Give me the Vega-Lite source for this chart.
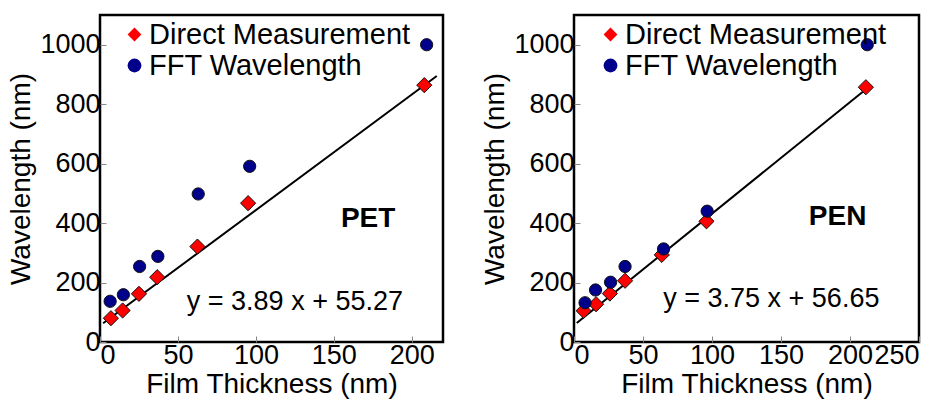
{
  "$schema": "https://vega.github.io/schema/vega-lite/v6.json",
  "padding": {"left": 6, "top": 13, "right": 0, "bottom": 0},
  "background": "white",
  "spacing": 35,
  "config": {
    "font": "Liberation Sans",
    "view": {"stroke": "black", "strokeWidth": 2.5},
    "axis": {
      "domain": false,
      "grid": false,
      "ticks": true,
      "tickSize": -6,
      "tickColor": "#888888",
      "tickWidth": 1,
      "format": "d",
      "labelFont": "Liberation Sans",
      "labelFontSize": 27,
      "labelColor": "black",
      "titleFont": "Liberation Sans",
      "titleFontSize": 28,
      "titleFontWeight": "normal",
      "titleColor": "black"
    },
    "legend": {
      "labelFont": "Liberation Sans",
      "labelFontSize": 29,
      "labelColor": "black",
      "labelLimit": 0,
      "symbolSize": 190,
      "symbolStrokeColor": "#111111",
      "symbolStrokeWidth": 1,
      "labelOffset": 0,
      "rowPadding": 1,
      "padding": 0
    }
  },
  "datasets": {
    "pts": [
      {"panel": "PET", "series": "Direct Measurement", "thickness": 7, "wavelength": 80},
      {"panel": "PET", "series": "Direct Measurement", "thickness": 14.5, "wavelength": 106},
      {"panel": "PET", "series": "Direct Measurement", "thickness": 25, "wavelength": 162},
      {"panel": "PET", "series": "Direct Measurement", "thickness": 36.7, "wavelength": 218},
      {"panel": "PET", "series": "Direct Measurement", "thickness": 62.5, "wavelength": 321},
      {"panel": "PET", "series": "Direct Measurement", "thickness": 95, "wavelength": 467},
      {"panel": "PET", "series": "Direct Measurement", "thickness": 208, "wavelength": 864},
      {"panel": "PET", "series": "FFT Wavelength", "thickness": 6.5, "wavelength": 137},
      {"panel": "PET", "series": "FFT Wavelength", "thickness": 15, "wavelength": 159},
      {"panel": "PET", "series": "FFT Wavelength", "thickness": 25.4, "wavelength": 254},
      {"panel": "PET", "series": "FFT Wavelength", "thickness": 37.1, "wavelength": 288},
      {"panel": "PET", "series": "FFT Wavelength", "thickness": 63, "wavelength": 498},
      {"panel": "PET", "series": "FFT Wavelength", "thickness": 96, "wavelength": 591},
      {"panel": "PET", "series": "FFT Wavelength", "thickness": 209.5, "wavelength": 1000},
      {"panel": "PEN", "series": "Direct Measurement", "thickness": 7, "wavelength": 105},
      {"panel": "PEN", "series": "Direct Measurement", "thickness": 16, "wavelength": 127},
      {"panel": "PEN", "series": "Direct Measurement", "thickness": 26, "wavelength": 163},
      {"panel": "PEN", "series": "Direct Measurement", "thickness": 37, "wavelength": 206},
      {"panel": "PEN", "series": "Direct Measurement", "thickness": 63.6, "wavelength": 293},
      {"panel": "PEN", "series": "Direct Measurement", "thickness": 96, "wavelength": 406},
      {"panel": "PEN", "series": "Direct Measurement", "thickness": 211.5, "wavelength": 857},
      {"panel": "PEN", "series": "FFT Wavelength", "thickness": 8, "wavelength": 132},
      {"panel": "PEN", "series": "FFT Wavelength", "thickness": 15.6, "wavelength": 175},
      {"panel": "PEN", "series": "FFT Wavelength", "thickness": 26.5, "wavelength": 201},
      {"panel": "PEN", "series": "FFT Wavelength", "thickness": 37, "wavelength": 254},
      {"panel": "PEN", "series": "FFT Wavelength", "thickness": 64.9, "wavelength": 313},
      {"panel": "PEN", "series": "FFT Wavelength", "thickness": 96.5, "wavelength": 440},
      {"panel": "PEN", "series": "FFT Wavelength", "thickness": 212.5, "wavelength": 1000}
    ],
    "fit": [
      {"panel": "PET", "thickness": 2, "wavelength": 63},
      {"panel": "PET", "thickness": 216, "wavelength": 895},
      {"panel": "PEN", "thickness": 2, "wavelength": 64},
      {"panel": "PEN", "thickness": 212, "wavelength": 852}
    ],
    "one": [{}]
  },
  "resolve": {
    "scale": {"x": "independent", "y": "independent", "fill": "independent", "shape": "independent"},
    "legend": {"fill": "independent", "shape": "independent"}
  },
  "hconcat": [
    {
      "width": 343,
      "height": 327,
      "layer": [
        {
          "data": {"name": "fit"},
          "transform": [{"filter": "datum.panel === 'PET'"}],
          "mark": {"type": "line", "color": "black", "strokeWidth": 2},
          "encoding": {
            "x": {"field": "thickness", "type": "quantitative", "scale": {"domain": [0, 220], "nice": false},
              "axis": {"title": "Film Thickness (nm)", "values": [0, 50, 100, 150, 200], "labelPadding": 6, "titlePadding": 2}},
            "y": {"field": "wavelength", "type": "quantitative", "scale": {"domain": [0, 1100], "nice": false},
              "axis": {"title": "Wavelength (nm)", "values": [0, 100, 200, 300, 400, 500, 600, 700, 800, 900, 1000],
                "labelExpr": "datum.value % 200 === 0 ? datum.label : ''", "labelPadding": 6, "titlePadding": 4}}
          }
        },
        {
          "data": {"name": "pts"},
          "transform": [{"filter": "datum.panel === 'PET' && datum.series === 'Direct Measurement'"}],
          "mark": {"type": "point", "filled": true, "stroke": "#111111", "strokeWidth": 1, "opacity": 1, "size": 230},
          "encoding": {
            "x": {"field": "thickness", "type": "quantitative"},
            "y": {"field": "wavelength", "type": "quantitative"},
            "fill": {"field": "series", "type": "nominal",
              "scale": {"domain": ["Direct Measurement", "FFT Wavelength"], "range": ["#ff0000", "#00008b"]},
              "legend": {"title": null, "orient": "none", "legendX": 20, "legendY": 5, "labelLimit": 0,
                "encode": {"symbols": {"update": {"size": {"signal": "datum.value === 'Direct Measurement' ? 220 : 160"}, "stroke": {"value": "#111111"}, "strokeWidth": {"value": 1}}}}}},
            "shape": {"field": "series", "type": "nominal",
              "scale": {"domain": ["Direct Measurement", "FFT Wavelength"], "range": ["diamond", "circle"]},
              "legend": {"title": null, "orient": "none", "legendX": 20, "legendY": 5, "labelLimit": 0,
                "encode": {"symbols": {"update": {"size": {"signal": "datum.value === 'Direct Measurement' ? 220 : 160"}, "stroke": {"value": "#111111"}, "strokeWidth": {"value": 1}}}}}}
          }
        },
        {
          "data": {"name": "pts"},
          "transform": [{"filter": "datum.panel === 'PET' && datum.series === 'FFT Wavelength'"}],
          "mark": {"type": "point", "filled": true, "stroke": "#111111", "strokeWidth": 1, "opacity": 1, "size": 150},
          "encoding": {
            "x": {"field": "thickness", "type": "quantitative"},
            "y": {"field": "wavelength", "type": "quantitative"},
            "fill": {"field": "series", "type": "nominal"},
            "shape": {"field": "series", "type": "nominal"}
          }
        },
        {
          "data": {"name": "one"},
          "mark": {"type": "text", "text": "PET", "fontSize": 28, "fontWeight": "bold", "font": "Liberation Sans", "color": "black"},
          "encoding": {"x": {"datum": 172}, "y": {"datum": 413}}
        },
        {
          "data": {"name": "one"},
          "mark": {"type": "text", "text": "y = 3.89 x + 55.27", "fontSize": 27, "font": "Liberation Sans", "color": "black"},
          "encoding": {"x": {"datum": 125}, "y": {"datum": 134}}
        }
      ]
    },
    {
      "width": 345,
      "height": 327,
      "layer": [
        {
          "data": {"name": "fit"},
          "transform": [{"filter": "datum.panel === 'PEN'"}],
          "mark": {"type": "line", "color": "black", "strokeWidth": 2},
          "encoding": {
            "x": {"field": "thickness", "type": "quantitative", "scale": {"domain": [0, 250], "nice": false},
              "axis": {"title": "Film Thickness (nm)", "values": [0, 50, 100, 150, 200, 250], "labelPadding": 6, "titlePadding": 2}},
            "y": {"field": "wavelength", "type": "quantitative", "scale": {"domain": [0, 1100], "nice": false},
              "axis": {"title": "Wavelength (nm)", "values": [0, 100, 200, 300, 400, 500, 600, 700, 800, 900, 1000],
                "labelExpr": "datum.value % 200 === 0 ? datum.label : ''", "labelPadding": 6, "titlePadding": 4}}
          }
        },
        {
          "data": {"name": "pts"},
          "transform": [{"filter": "datum.panel === 'PEN' && datum.series === 'Direct Measurement'"}],
          "mark": {"type": "point", "filled": true, "stroke": "#111111", "strokeWidth": 1, "opacity": 1, "size": 230},
          "encoding": {
            "x": {"field": "thickness", "type": "quantitative"},
            "y": {"field": "wavelength", "type": "quantitative"},
            "fill": {"field": "series", "type": "nominal",
              "scale": {"domain": ["Direct Measurement", "FFT Wavelength"], "range": ["#ff0000", "#00008b"]},
              "legend": {"title": null, "orient": "none", "legendX": 22, "legendY": 5, "labelLimit": 0,
                "encode": {"symbols": {"update": {"size": {"signal": "datum.value === 'Direct Measurement' ? 220 : 160"}, "stroke": {"value": "#111111"}, "strokeWidth": {"value": 1}}}}}},
            "shape": {"field": "series", "type": "nominal",
              "scale": {"domain": ["Direct Measurement", "FFT Wavelength"], "range": ["diamond", "circle"]},
              "legend": {"title": null, "orient": "none", "legendX": 22, "legendY": 5, "labelLimit": 0,
                "encode": {"symbols": {"update": {"size": {"signal": "datum.value === 'Direct Measurement' ? 220 : 160"}, "stroke": {"value": "#111111"}, "strokeWidth": {"value": 1}}}}}}
          }
        },
        {
          "data": {"name": "pts"},
          "transform": [{"filter": "datum.panel === 'PEN' && datum.series === 'FFT Wavelength'"}],
          "mark": {"type": "point", "filled": true, "stroke": "#111111", "strokeWidth": 1, "opacity": 1, "size": 150},
          "encoding": {
            "x": {"field": "thickness", "type": "quantitative"},
            "y": {"field": "wavelength", "type": "quantitative"},
            "fill": {"field": "series", "type": "nominal"},
            "shape": {"field": "series", "type": "nominal"}
          }
        },
        {
          "data": {"name": "one"},
          "mark": {"type": "text", "text": "PEN", "fontSize": 28, "fontWeight": "bold", "font": "Liberation Sans", "color": "black"},
          "encoding": {"x": {"datum": 191}, "y": {"datum": 419}}
        },
        {
          "data": {"name": "one"},
          "mark": {"type": "text", "text": "y = 3.75 x + 56.65", "fontSize": 27, "font": "Liberation Sans", "color": "black"},
          "encoding": {"x": {"datum": 143}, "y": {"datum": 145}}
        }
      ]
    }
  ]
}
